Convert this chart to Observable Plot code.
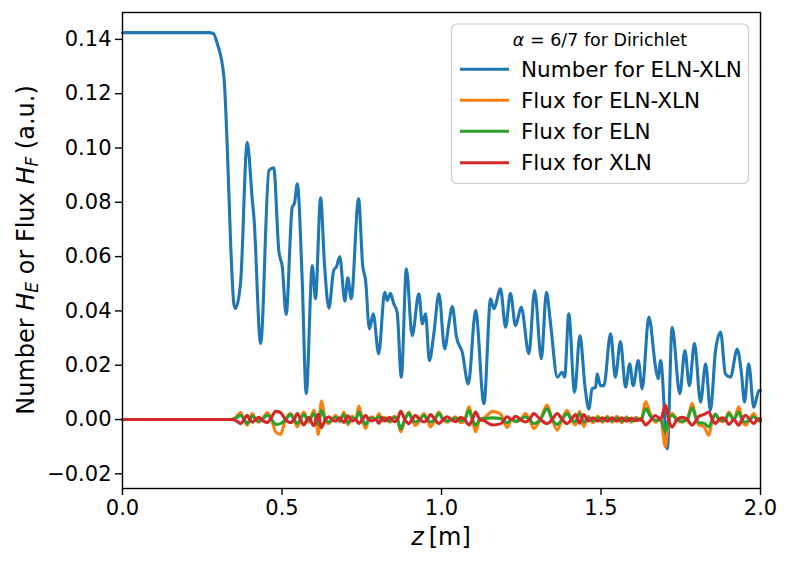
<!DOCTYPE html>
<html>
<head>
<meta charset="utf-8">
<script src="https://cdn.jsdelivr.net/npm/d3@7"></script>
<script src="https://cdn.jsdelivr.net/npm/@observablehq/plot@0.6"></script>
<style>
  html, body { margin: 0; padding: 0; background: white; }
  #chart svg { display: block; }
</style>
</head>
<body>
<div id="chart"></div>
<script>
// ---- Data ----
const xTicks = [0, 0.5, 1.0, 1.5, 2.0];
const yTicks = [-0.02, 0, 0.02, 0.04, 0.06, 0.08, 0.10, 0.12, 0.14];

const seriesNames = ["Number for ELN-XLN", "Flux for ELN-XLN", "Flux for ELN", "Flux for XLN"];
const seriesColors = ["#1f77b4", "#ff7f0e", "#2ca02c", "#d62728"];
const legendTitle = "6/7 for Dirichlet";

const zNumber = [
  0, 0.27, 0.285, 0.297, 0.318, 0.328, 0.339, 0.349, 0.354, 0.370,
  0.391, 0.407, 0.412, 0.433, 0.459, 0.474, 0.490, 0.501, 0.513, 0.532,
  0.539, 0.548, 0.563, 0.576, 0.595, 0.605, 0.621, 0.633, 0.647, 0.662,
  0.671, 0.681, 0.697, 0.706, 0.717, 0.740, 0.753, 0.762, 0.774, 0.786,
  0.803, 0.822, 0.830, 0.840, 0.850, 0.861, 0.874, 0.890, 0.908, 0.929,
  0.940, 0.950, 0.962, 0.976, 0.992, 1.010, 1.023, 1.034, 1.047, 1.065,
  1.084, 1.107, 1.133, 1.154, 1.164, 1.185, 1.201, 1.216, 1.232, 1.250,
  1.274, 1.292, 1.313, 1.329, 1.342, 1.363, 1.378, 1.386, 1.399, 1.417,
  1.434, 1.450, 1.462, 1.472, 1.483, 1.488, 1.498, 1.509, 1.530, 1.545,
  1.561, 1.577, 1.590, 1.601, 1.617, 1.629, 1.650, 1.671, 1.679, 1.687,
  1.708, 1.723, 1.747, 1.763, 1.777, 1.793, 1.812, 1.828, 1.843, 1.859,
  1.875, 1.890, 1.906, 1.927, 1.940, 1.950, 1.963, 1.979, 1.995, 2.0
];
const hNumber = [
  0.1425, 0.1425, 0.1422, 0.1385, 0.1261, 0.1017, 0.0648, 0.0427, 0.0409, 0.0501,
  0.1021, 0.0807, 0.0745, 0.0280, 0.0917, 0.0927, 0.0622, 0.0561, 0.0387, 0.0782,
  0.0796, 0.0868, 0.0524, 0.0095, 0.0567, 0.0445, 0.0817, 0.0575, 0.0410, 0.0549,
  0.0563, 0.0600, 0.0436, 0.0522, 0.0445, 0.0813, 0.0567, 0.0512, 0.0334, 0.0389,
  0.0242, 0.0469, 0.0438, 0.0465, 0.0427, 0.0395, 0.0156, 0.0555, 0.0309, 0.0463,
  0.0352, 0.0389, 0.0217, 0.0316, 0.0463, 0.0260, 0.0352, 0.0416, 0.0303, 0.0248,
  0.0131, 0.0401, 0.0058, 0.0445, 0.0408, 0.0481, 0.0340, 0.0465, 0.0346, 0.0414,
  0.0242, 0.0475, 0.0224, 0.0469, 0.0352, 0.0156, 0.0174, 0.0156, 0.0389, 0.0101,
  0.0309, 0.0119, 0.0039, 0.0113, 0.0119, 0.0168, 0.0125, 0.0125, 0.0316, 0.0156,
  0.0287, 0.0119, 0.0205, 0.0125, 0.0217, 0.0113, 0.0377, 0.0193, 0.0150, 0.0217,
  -0.0108, 0.0340, 0.0095, 0.0254, 0.0125, 0.0281, 0.0064, 0.0205, 0.0033, 0.0254,
  0.0322, 0.0168, 0.0156, 0.0260, 0.0173, 0.0064, 0.0205, 0.0045, 0.0107, 0.0107
];

const zFlux = [
  0, 0.34, 0.355, 0.370, 0.381, 0.391, 0.399, 0.407, 0.417, 0.427,
  0.440, 0.454, 0.467, 0.480, 0.495, 0.511, 0.527, 0.538, 0.548, 0.558,
  0.568, 0.584, 0.600, 0.607, 0.614, 0.623, 0.636, 0.647, 0.657, 0.668,
  0.681, 0.694, 0.707, 0.720, 0.731, 0.741, 0.752, 0.762, 0.772, 0.783,
  0.794, 0.804, 0.814, 0.824, 0.838, 0.851, 0.862, 0.872, 0.885, 0.898,
  0.908, 0.918, 0.932, 0.945, 0.955, 0.966, 0.979, 0.992, 1.005, 1.018,
  1.031, 1.044, 1.060, 1.073, 1.086, 1.097, 1.107, 1.120, 1.133, 1.160,
  1.185, 1.206, 1.220, 1.232, 1.248, 1.263, 1.276, 1.289, 1.310, 1.331,
  1.347, 1.363, 1.378, 1.394, 1.407, 1.420, 1.433, 1.446, 1.460, 1.475,
  1.490, 1.505, 1.520, 1.535, 1.550, 1.565, 1.580, 1.595, 1.610, 1.625,
  1.640, 1.655, 1.671, 1.687, 1.702, 1.712, 1.723, 1.738, 1.754, 1.770,
  1.786, 1.797, 1.807, 1.822, 1.838, 1.849, 1.859, 1.870, 1.880, 1.890,
  1.901, 1.916, 1.932, 1.942, 1.953, 1.966, 1.979, 1.990, 2.0
];
const fluxEX = [
  0, 0, 0.0008, 0.0026, 0, -0.0021, 0, 0.0022, 0, -0.0010,
  0.0005, 0.0026, 0, -0.0045, -0.0055, 0, 0.0022, 0, -0.0027, 0,
  0.0028, -0.0010, 0.0034, 0, -0.0055, 0.0068, 0, -0.0015, 0, 0.0016,
  -0.0008, 0.0028, -0.0020, 0.0012, 0, 0.0050, 0, -0.0033, 0, 0.0010,
  0, 0.0022, -0.0006, 0.0008, -0.0010, 0.0012, 0, -0.0045, 0, 0.0028,
  0, -0.0022, 0, 0.0022, 0, -0.0027, 0, 0.0028, 0, -0.0010,
  0, 0.0010, -0.0012, 0, 0.0047, 0, -0.0045, 0, 0.0006, 0.0030,
  0.0020, -0.0030, 0, -0.0008, 0, 0.0022, 0, -0.0033, 0, 0.0053,
  0, -0.0039, 0, 0.0034, 0, -0.0020, 0.0030, -0.0026, 0.0012, -0.0012,
  0.0012, -0.0010, 0.0012, -0.0010, 0.0012, -0.0012, 0.0010, -0.0010, 0.0008, -0.0004,
  0.0065, 0.0020, -0.0010, 0, -0.0100, 0, 0.0022, 0, -0.0010, 0,
  0.0060, 0.0010, -0.0020, -0.0025, -0.0058, 0, 0.0018, 0, -0.0008, 0,
  0.0028, 0, 0.0047, 0, -0.0021, 0, 0.0022, 0, -0.0008
];
const fluxE = [
  0, 0, 0.0005, 0.0016, 0, -0.0015, 0, 0.0014, 0, -0.0006,
  0.0003, 0.0016, 0.0002, -0.0018, -0.0015, 0, 0.0018, 0, -0.0015, 0,
  0.0018, -0.0004, 0.0022, 0, -0.0020, 0.0035, 0, -0.0009, 0, 0.0008,
  -0.0004, 0.0018, -0.0012, 0.0007, 0, 0.0028, 0, -0.0018, 0, 0.0006,
  0, 0.0012, -0.0003, 0.0004, -0.0006, 0.0008, 0, -0.0035, 0, 0.0022,
  0, -0.0009, 0, 0.0016, 0, -0.0009, 0, 0.0022, 0, -0.0005,
  0, 0.0005, -0.0004, 0, 0.0034, 0, -0.0021, 0, 0.0003, 0.0006,
  0.0004, -0.0012, 0, -0.0006, 0, 0.0010, 0, -0.0015, 0, 0.0040,
  0, -0.0018, 0, 0.0022, 0, -0.0008, 0.0022, -0.0010, 0.0006, -0.0006,
  0.0006, -0.0005, 0.0006, -0.0005, 0.0006, -0.0006, 0.0005, -0.0005, 0.0004, -0.0002,
  0.0040, 0.0012, -0.0003, 0, -0.0045, 0, 0.0016, 0, -0.0006, 0,
  0.0043, 0.0008, -0.0012, -0.0013, -0.0027, 0, 0.0020, 0, -0.0004, 0,
  0.0022, 0, 0.0028, 0, -0.0010, 0, 0.0010, 0, -0.0004
];
const fluxX = [
  0, 0, -0.0003, -0.0015, 0, 0.0016, 0, -0.0010, 0, 0.0008,
  -0.0004, -0.0011, 0.0008, 0.0030, 0.0026, 0, -0.0011, 0, 0.0022, 0,
  -0.0020, 0.0008, -0.0023, 0, 0.0020, -0.0030, 0, 0.0010, 0, -0.0006,
  0.0006, -0.0011, 0.0014, -0.0006, 0, -0.0015, 0, 0.0016, 0, -0.0005,
  0, -0.0014, 0.0008, -0.0006, 0.0008, -0.0008, 0, 0.0030, 0, -0.0015,
  0, 0.0016, 0, -0.0009, 0, 0.0018, 0, -0.0015, 0, 0.0010,
  0, -0.0008, 0.0008, 0, -0.0020, 0, 0.0028, 0, -0.0004, -0.0020,
  -0.0016, 0.0010, 0, 0.0012, 0, -0.0009, 0, 0.0022, 0, -0.0015,
  0, 0.0022, 0, -0.0015, 0, 0.0018, -0.0014, 0.0018, -0.0006, 0.0006,
  -0.0006, 0.0006, -0.0006, 0.0006, -0.0006, 0.0006, -0.0006, 0.0005, -0.0004, 0.0003,
  -0.0020, -0.0004, 0.0015, 0, 0.0053, 0, -0.0027, 0, 0.0008, 0,
  -0.0021, -0.0005, 0.0012, 0.0018, 0.0028, 0, -0.0015, 0, 0.0006, 0,
  -0.0018, 0, -0.0021, 0, 0.0016, 0, -0.0015, 0, 0.0005
];

// ---- Tables built from the arrays ----
const numberData = zNumber.map((z, i) => ({z, v: hNumber[i]}));
const fluxSeries = [fluxEX, fluxE, fluxX];
const fluxData = fluxSeries.map(arr => zFlux.map((z, i) => ({z, v: arr[i]})));

const LW = 3.1;
const W = 789, H = 564;
const chart = Plot.plot({
  width: W,
  height: H,
  marginLeft: 122,
  marginRight: 29,
  marginTop: 12,
  marginBottom: 76,
  style: {fontFamily: "'DejaVu Sans', sans-serif", fontSize: "21px", background: "white", color: "black", overflow: "visible"},
  x: {domain: [0, 2]},
  y: {domain: [-0.0254, 0.1499]},
  marks: [
    Plot.line(numberData, {x: "z", y: "v", stroke: seriesColors[0], strokeWidth: LW, curve: "monotone-x"}),
    Plot.line(fluxData[0], {x: "z", y: "v", stroke: seriesColors[1], strokeWidth: LW, curve: "monotone-x"}),
    Plot.line(fluxData[1], {x: "z", y: "v", stroke: seriesColors[2], strokeWidth: LW, curve: "monotone-x"}),
    Plot.line(fluxData[2], {x: "z", y: "v", stroke: seriesColors[3], strokeWidth: LW, curve: "monotone-x"}),
    Plot.frame({stroke: "black", strokeWidth: 1.4}),
    Plot.axisX({ticks: xTicks, tickFormat: d3.format(".1f"), tickSize: 7, tickPadding: 5, strokeWidth: 1.4, label: null}),
    Plot.axisY({ticks: yTicks, tickFormat: d3.format(".2f"), tickSize: 7, tickPadding: 4, strokeWidth: 1.4, label: null})
  ]
});
document.getElementById("chart").appendChild(chart);

// ---- Axis labels and legend (text added to the Plot SVG) ----
const svg = d3.select(chart);
const font = "'DejaVu Sans', sans-serif";

// x label: z [m]
const xl = svg.append("text")
  .attr("x", 441).attr("y", 545)
  .attr("text-anchor", "middle")
  .attr("font-family", font).attr("font-size", 24).attr("fill", "black");
xl.append("tspan").attr("font-style", "italic").text("z");
xl.append("tspan").text("\u2009[m]");

// y label: Number H_E or Flux H_F (a.u.)
const yl = svg.append("text")
  .attr("transform", "translate(34,250) rotate(-90)")
  .attr("text-anchor", "middle")
  .attr("font-family", font).attr("font-size", 24).attr("fill", "black");
yl.append("tspan").text("Number ");
yl.append("tspan").attr("font-style", "italic").text("H");
yl.append("tspan").attr("font-style", "italic").attr("font-size", 17).attr("dy", 4).text("E");
yl.append("tspan").attr("dy", -4).text(" or Flux ");
yl.append("tspan").attr("font-style", "italic").text("H");
yl.append("tspan").attr("font-style", "italic").attr("font-size", 17).attr("dy", 4).text("F");
yl.append("tspan").attr("dy", -4).text(" (a.u.)");

// legend box
const lg = svg.append("g");
lg.append("rect")
  .attr("x", 451.5).attr("y", 24).attr("width", 297).attr("height", 159.5)
  .attr("rx", 5).attr("fill", "white").attr("fill-opacity", 0.8)
  .attr("stroke", "#cccccc").attr("stroke-width", 1.2);
const lt = lg.append("text")
  .attr("x", 600).attr("y", 45.5).attr("text-anchor", "middle")
  .attr("font-family", font).attr("font-size", 17.5).attr("fill", "black");
lt.append("tspan").attr("font-style", "italic").text("\u03B1");
lt.append("tspan").text(" = " + legendTitle);
const rowY = [69.3, 100.3, 131.3, 162.7];
seriesNames.forEach((name, i) => {
  lg.append("line")
    .attr("x1", 460).attr("x2", 509).attr("y1", rowY[i]).attr("y2", rowY[i])
    .attr("stroke", seriesColors[i]).attr("stroke-width", LW);
  lg.append("text")
    .attr("x", 521).attr("y", rowY[i] + 7.5)
    .attr("text-anchor", "start")
    .attr("font-family", font).attr("font-size", 21.5).attr("fill", "black")
    .text(name);
});
</script>
</body>
</html>
